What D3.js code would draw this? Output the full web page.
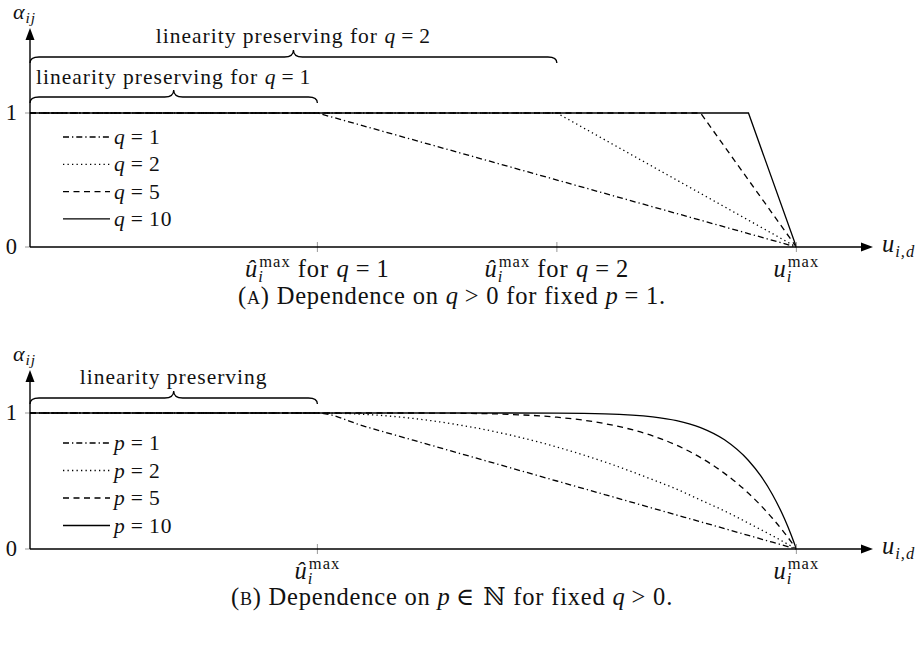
<!DOCTYPE html>
<html>
<head>
<meta charset="utf-8">
<script src="https://cdn.jsdelivr.net/npm/d3@7"></script>
<style>
  body { margin: 0; background: #fff; }
  svg text { font-family: "Liberation Serif", "Times New Roman", serif; fill: #111; letter-spacing: 1px; }
  .it { font-style: italic; }
</style>
</head>
<body>
<svg id="chart" width="922" height="646" font-family="Liberation Serif"></svg>
<script>
// positions on the u axis, u_max = 1
const uHatQ1 = 0.375;
const uMax = 1;

// panel A: kink positions of the piecewise linear limiter for each q
const qLabels = ["1", "2", "5", "10"];
const qKinks = [0.375, 0.6875, 0.875, 0.9375];

// panel B: alpha over the normalised distance t between û and u_max
const tGrid = [0, 0.1, 0.2, 0.3, 0.4, 0.5, 0.6, 0.7, 0.75, 0.8, 0.85, 0.9, 0.925, 0.95, 0.975, 0.99, 1];
const pLabels = ["1", "2", "5", "10"];
const p1 = [1, 0.9, 0.8, 0.7, 0.6, 0.5, 0.4, 0.3, 0.25, 0.2, 0.15, 0.1, 0.075, 0.05, 0.025, 0.01, 0];
const p2 = [1, 0.99, 0.96, 0.91, 0.84, 0.75, 0.64, 0.51, 0.44, 0.36, 0.28, 0.19, 0.144, 0.098, 0.049, 0.02, 0];
const p5 = [1, 1, 1, 0.998, 0.99, 0.969, 0.922, 0.832, 0.763, 0.672, 0.556, 0.41, 0.323, 0.226, 0.119, 0.049, 0];
const p10 = [1, 1, 1, 1, 1, 0.999, 0.994, 0.972, 0.944, 0.893, 0.803, 0.651, 0.541, 0.401, 0.224, 0.096, 0];

const dashes = ["6,3,1.3,3", "1.3,3.2", "6,4.5", null];

const svg = d3.select("#chart");
const FS = 21.5, TS = 24.5, SS = 16.5, CS = 24.5;

const x = d3.scaleLinear().domain([0, 1.1]).range([30, 873]);
const yA = d3.scaleLinear().domain([0, 1]).range([247, 113]);
const yB = d3.scaleLinear().domain([0, 1]).range([549, 413]);

const line = (ys) => d3.line().x(d => x(d[0])).y(d => ys(d[1]));

function measure(str, size, italic) {
  const t = svg.append("text").attr("font-size", size).attr("font-style", italic ? "italic" : null).text(str);
  const w = t.node().getComputedTextLength();
  t.remove();
  return w;
}

// math "sym = val" with TeX-like spacing round the relation
function mathEq(t, sym, rel, val, gap) {
  t.append("tspan").attr("class", "it").text(sym);
  t.append("tspan").attr("dx", gap || 5).text(rel);
  t.append("tspan").attr("dx", gap || 5).text(val);
}

// û_i^max style label, optional trailing parts
function uLabel(g, cx, y, hat, tail) {
  const mw = measure("max", SS, false);
  const iw = measure("i", SS, true);
  const t = g.append("text").attr("x", cx).attr("y", y).attr("text-anchor", "middle").attr("font-size", TS);
  t.append("tspan").attr("class", "it").text(hat ? "û" : "u");
  t.append("tspan").attr("font-size", SS).attr("dy", -10).attr("dx", 1).text("max");
  t.append("tspan").attr("class", "it").attr("font-size", SS).attr("dy", 15).attr("dx", -mw - 1).text("i");
  if (tail) {
    t.append("tspan").attr("dy", -5).attr("dx", mw - iw + 8).text("for ");
    mathEq(t, "q", "=", tail, 6);
  } else {
    t.append("tspan").attr("dx", mw - iw).text("");
  }
}

function bracePath(x0, x1, y) {
  const m = (x0 + x1) / 2, r = 9, h = 6, tip = 7;
  return `M${x0},${y + h} Q${x0},${y} ${x0 + r},${y} L${m - r},${y} Q${m},${y} ${m},${y - tip}` +
    ` Q${m},${y} ${m + r},${y} L${x1 - r},${y} Q${x1},${y} ${x1},${y + h}`;
}

function axes(g, ys, yTop, xTicks) {
  const y0 = ys(0);
  [0, 1].forEach(v => {
    g.append("line").attr("x1", x(0) - 5).attr("x2", x(0)).attr("y1", ys(v)).attr("y2", ys(v))
      .attr("stroke", "#999").attr("stroke-width", 1);
    g.append("text").attr("x", 18).attr("y", ys(v) + 7).attr("text-anchor", "end").attr("font-size", 22.5).text(v);
  });
  xTicks.forEach(v => {
    g.append("line").attr("x1", x(v)).attr("x2", x(v)).attr("y1", y0 - 5).attr("y2", y0 + 5)
      .attr("stroke", "#999").attr("stroke-width", 1);
  });
  g.append("line").attr("x1", x(0)).attr("x2", x(1.1) - 9).attr("y1", y0).attr("y2", y0)
    .attr("stroke", "#000").attr("stroke-width", 1.4);
  g.append("path").attr("d", `M${x(1.1)},${y0} L${x(1.1) - 12},${y0 - 4.5} L${x(1.1) - 12},${y0 + 4.5} Z`);
  g.append("line").attr("x1", x(0)).attr("x2", x(0)).attr("y1", y0).attr("y2", yTop + 9)
    .attr("stroke", "#000").attr("stroke-width", 1.4);
  g.append("path").attr("d", `M${x(0)},${yTop} L${x(0) - 4.5},${yTop + 12} L${x(0) + 4.5},${yTop + 12} Z`);

  const a = g.append("text").attr("x", x(0) - 17).attr("y", yTop - 9).attr("font-size", 22);
  a.append("tspan").attr("class", "it").text("α");
  a.append("tspan").attr("class", "it").attr("font-size", 15.5).attr("dy", 4).text("ij");

  const u = g.append("text").attr("x", 882).attr("y", y0 + 5).attr("font-size", TS);
  u.append("tspan").attr("class", "it").text("u");
  u.append("tspan").attr("class", "it").attr("font-size", SS).attr("dy", 5).text("i,d");
}

function legend(g, top, step, sym, labels) {
  labels.forEach((lab, i) => {
    const yy = top + i * step;
    g.append("line").attr("x1", 63).attr("x2", 110).attr("y1", yy).attr("y2", yy)
      .attr("stroke", "#000").attr("stroke-width", 1.3).attr("stroke-dasharray", dashes[i]);
    const t = g.append("text").attr("x", 114).attr("y", yy + 7).attr("font-size", FS);
    mathEq(t, sym, "=", lab);
  });
}

function caption(g, y, letter, parts) {
  const t = g.append("text").attr("x", 452).attr("y", y).attr("text-anchor", "middle")
    .attr("font-size", CS).style("letter-spacing", "0.8px");
  t.append("tspan").text("(");
  t.append("tspan").attr("font-size", 18).text(letter);
  t.append("tspan").text(") ");
  parts.forEach(p => t.append("tspan").attr("class", p[1] ? "it" : null).attr("dx", p[2] || null)
    .attr("font-family", p[3] || null).text(p[0]));
}

// ---------- panel A ----------
const gA = svg.append("g");
qKinks.forEach((k, i) => {
  gA.append("path").datum([[0, 1], [k, 1], [uMax, 0]])
    .attr("d", line(yA)).attr("fill", "none").attr("stroke", "#000").attr("stroke-width", 1.3)
    .attr("stroke-dasharray", dashes[i]);
});
axes(gA, yA, 28, [uHatQ1, qKinks[1], uMax]);
legend(gA, 137, 27.3, "q", qLabels);
uLabel(gA, x(uHatQ1), 277, true, "1");
uLabel(gA, x(qKinks[1]), 277, true, "2");
uLabel(gA, x(uMax), 277, false, null);

gA.append("path").attr("d", bracePath(x(0), x(qKinks[1]), 57)).attr("fill", "none").attr("stroke", "#000").attr("stroke-width", 1.3);
gA.append("path").attr("d", bracePath(x(0), x(uHatQ1), 97)).attr("fill", "none").attr("stroke", "#000").attr("stroke-width", 1.3);
[[qKinks[1], 43, "2"], [uHatQ1, 84, "1"]].forEach(b => {
  const t = gA.append("text").attr("x", x(b[0] / 2)).attr("y", b[1]).attr("text-anchor", "middle").attr("font-size", FS);
  t.append("tspan").text("linearity preserving for ");
  mathEq(t, "q", "=", b[2]);
});
caption(gA, 304, "A", [["Dependence on "], ["q", 1], [">", 0, 6], [" 0 for fixed "], ["p", 1], ["=", 0, 6], [" 1."]]);

// ---------- panel B ----------
const gB = svg.append("g");
[p1, p2, p5, p10].forEach((vals, i) => {
  const pts = [[0, 1]].concat(tGrid.map((t, j) => [uHatQ1 + t * (uMax - uHatQ1), vals[j]]));
  gB.append("path").datum(pts)
    .attr("d", line(yB).curve(d3.curveMonotoneX)).attr("fill", "none").attr("stroke", "#000")
    .attr("stroke-width", 1.3).attr("stroke-dasharray", dashes[i]);
});
axes(gB, yB, 370, [uHatQ1, uMax]);
legend(gB, 443, 27.5, "p", pLabels);
uLabel(gB, x(uHatQ1), 579, true, null);
uLabel(gB, x(uMax), 579, false, null);
gB.append("path").attr("d", bracePath(x(0), x(uHatQ1), 398)).attr("fill", "none").attr("stroke", "#000").attr("stroke-width", 1.3);
gB.append("text").attr("x", x(uHatQ1 / 2)).attr("y", 384).attr("text-anchor", "middle").attr("font-size", FS).text("linearity preserving");
caption(gB, 605, "B", [["Dependence on "], ["p", 1], ["∈", 0, 5, "DejaVu Serif"], [" ℕ", 0, 0, "DejaVu Serif"],
  [" for fixed "], ["q", 1], [">", 0, 6], [" 0."]]);
</script>
</body>
</html>
